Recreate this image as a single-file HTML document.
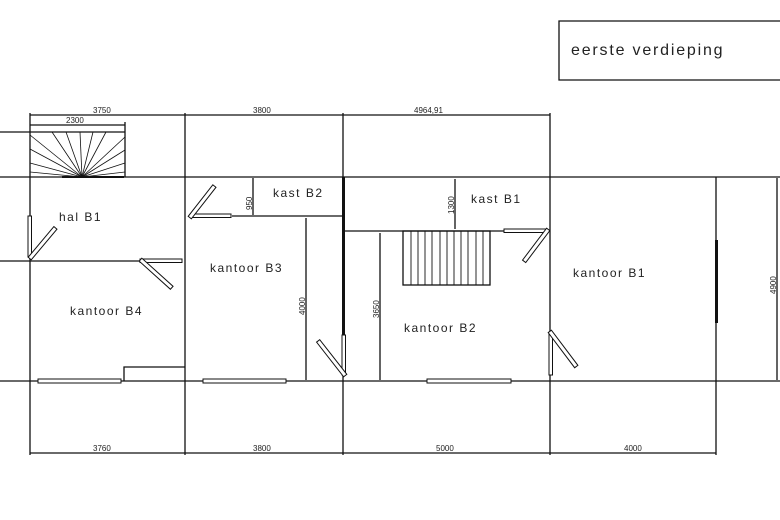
<!DOCTYPE html>
<html><head><meta charset="utf-8"><style>
html,body{margin:0;padding:0;background:#fff;}
svg{display:block;}
text{font-family:"Liberation Sans",sans-serif;fill:#222;}
.l{font-size:12px;letter-spacing:1.5px;}
.d{font-size:8px;}
</style></head><body>
<svg width="780" height="520" viewBox="0 0 780 520" xmlns="http://www.w3.org/2000/svg">
<g stroke="#111" stroke-width="1.3" fill="none">
<!-- title box -->
<path d="M780 21 H559 V80 H780"/>
<!-- top dims -->
<line x1="30" y1="115" x2="550" y2="115"/>
<line x1="30" y1="125" x2="125" y2="125"/>
<line x1="125" y1="122" x2="125" y2="177"/>
<!-- stair top line -->
<line x1="0" y1="132" x2="125" y2="132"/>
<!-- main walls -->
<line x1="0" y1="177" x2="780" y2="177"/>
<line x1="0" y1="381" x2="780" y2="381"/>
<line x1="30" y1="113" x2="30" y2="455"/>
<line x1="185" y1="113" x2="185" y2="455"/>
<line x1="343" y1="113" x2="343" y2="455"/>
<line x1="550" y1="113" x2="550" y2="455"/>
<line x1="716" y1="177" x2="716" y2="455"/>
<line x1="777" y1="178" x2="777" y2="380"/>
<!-- interior -->
<line x1="0" y1="261" x2="182" y2="261"/>
<line x1="232" y1="216" x2="343" y2="216"/>
<line x1="253" y1="178" x2="253" y2="215"/>
<line x1="306" y1="218" x2="306" y2="380"/>
<line x1="345" y1="231" x2="550" y2="231"/>
<line x1="455" y1="179" x2="455" y2="229"/>
<line x1="380" y1="233" x2="380" y2="380"/>
<path d="M124 381 V367 H185"/>
<!-- bottom dims -->
<line x1="30" y1="453" x2="716" y2="453"/>
<!-- stair B1 fan -->
<g stroke-width="0.8">
<line x1="82" y1="177" x2="30" y2="163"/>
<line x1="82" y1="177" x2="30" y2="149"/>
<line x1="82" y1="177" x2="30" y2="135"/>
<line x1="82" y1="177" x2="52" y2="132"/>
<line x1="82" y1="177" x2="66" y2="132"/>
<line x1="82" y1="177" x2="80" y2="132"/>
<line x1="82" y1="177" x2="93" y2="132"/>
<line x1="82" y1="177" x2="106" y2="132"/>
<line x1="82" y1="177" x2="125" y2="137"/>
<line x1="82" y1="177" x2="125" y2="150"/>
<line x1="82" y1="177" x2="125" y2="163"/>
<line x1="82" y1="177" x2="125" y2="172"/>
<line x1="82" y1="177" x2="30" y2="172"/>
</g>
<!-- stair B2 -->
<rect x="403" y="231" width="87" height="54"/>
<g stroke-width="0.9">
<line x1="411" y1="231" x2="411" y2="285"/><line x1="418" y1="231" x2="418" y2="285"/>
<line x1="425" y1="231" x2="425" y2="285"/><line x1="432" y1="231" x2="432" y2="285"/>
<line x1="440" y1="231" x2="440" y2="285"/><line x1="447" y1="231" x2="447" y2="285"/>
<line x1="454" y1="231" x2="454" y2="285"/><line x1="461" y1="231" x2="461" y2="285"/>
<line x1="468" y1="231" x2="468" y2="285"/><line x1="476" y1="231" x2="476" y2="285"/>
<line x1="483" y1="231" x2="483" y2="285"/>
</g>
</g>
<!-- thick walls -->
<g fill="#111">
<rect x="342" y="177" width="3" height="198"/>
<rect x="715" y="240" width="3" height="83"/>
<rect x="62" y="176" width="62" height="2"/>
</g>
<!-- windows -->
<g fill="#fff" stroke="#111" stroke-width="1">
<rect x="38" y="379" width="83" height="4"/>
<rect x="203" y="379" width="83" height="4"/>
<rect x="427" y="379" width="84" height="4"/>
<!-- doors -->
<rect x="28" y="216" width="3.5" height="41"/>
<rect x="-2" y="-2" width="40" height="4" transform="translate(31,257) rotate(-50)"/>
<rect x="140" y="259" width="42" height="3.5"/>
<rect x="-2" y="-2" width="42" height="4" transform="translate(142,261) rotate(42)"/>
<rect x="191" y="214" width="40" height="3.5"/>
<rect x="-2" y="-2" width="40" height="4" transform="translate(191,216) rotate(-52)"/>
<rect x="504" y="229" width="42" height="3.5"/>
<rect x="-2" y="-2" width="40" height="4" transform="translate(547,231) rotate(127)"/>
<rect x="342" y="335" width="3.5" height="40"/>
<rect x="-2" y="-2" width="44" height="4" transform="translate(344,374) rotate(-128)"/>
<rect x="549" y="332" width="3.5" height="43"/>
<rect x="-2" y="-2" width="44" height="4" transform="translate(551,333) rotate(53)"/>
</g>
<!-- text -->
<text x="571" y="55" style="font-size:16px;letter-spacing:1.8px">eerste verdieping</text>
<text class="d" x="93" y="113">3750</text>
<text class="d" x="253" y="113">3800</text>
<text class="d" x="414" y="113">4964,91</text>
<text class="d" x="66" y="123">2300</text>
<text class="d" x="93" y="451">3760</text>
<text class="d" x="253" y="451">3800</text>
<text class="d" x="436" y="451">5000</text>
<text class="d" x="624" y="451">4000</text>
<text class="d" transform="translate(252,210) rotate(-90)">950</text>
<text class="d" transform="translate(454,214) rotate(-90)">1300</text>
<text class="d" transform="translate(305,315) rotate(-90)">4000</text>
<text class="d" transform="translate(379,318) rotate(-90)">3650</text>
<text class="d" transform="translate(776,294) rotate(-90)">4900</text>
<text class="l" x="59" y="221">hal B1</text>
<text class="l" x="273" y="197">kast B2</text>
<text class="l" x="471" y="203">kast B1</text>
<text class="l" x="210" y="272">kantoor B3</text>
<text class="l" x="573" y="277">kantoor B1</text>
<text class="l" x="70" y="315">kantoor B4</text>
<text class="l" x="404" y="332">kantoor B2</text>
</svg>
</body></html>
